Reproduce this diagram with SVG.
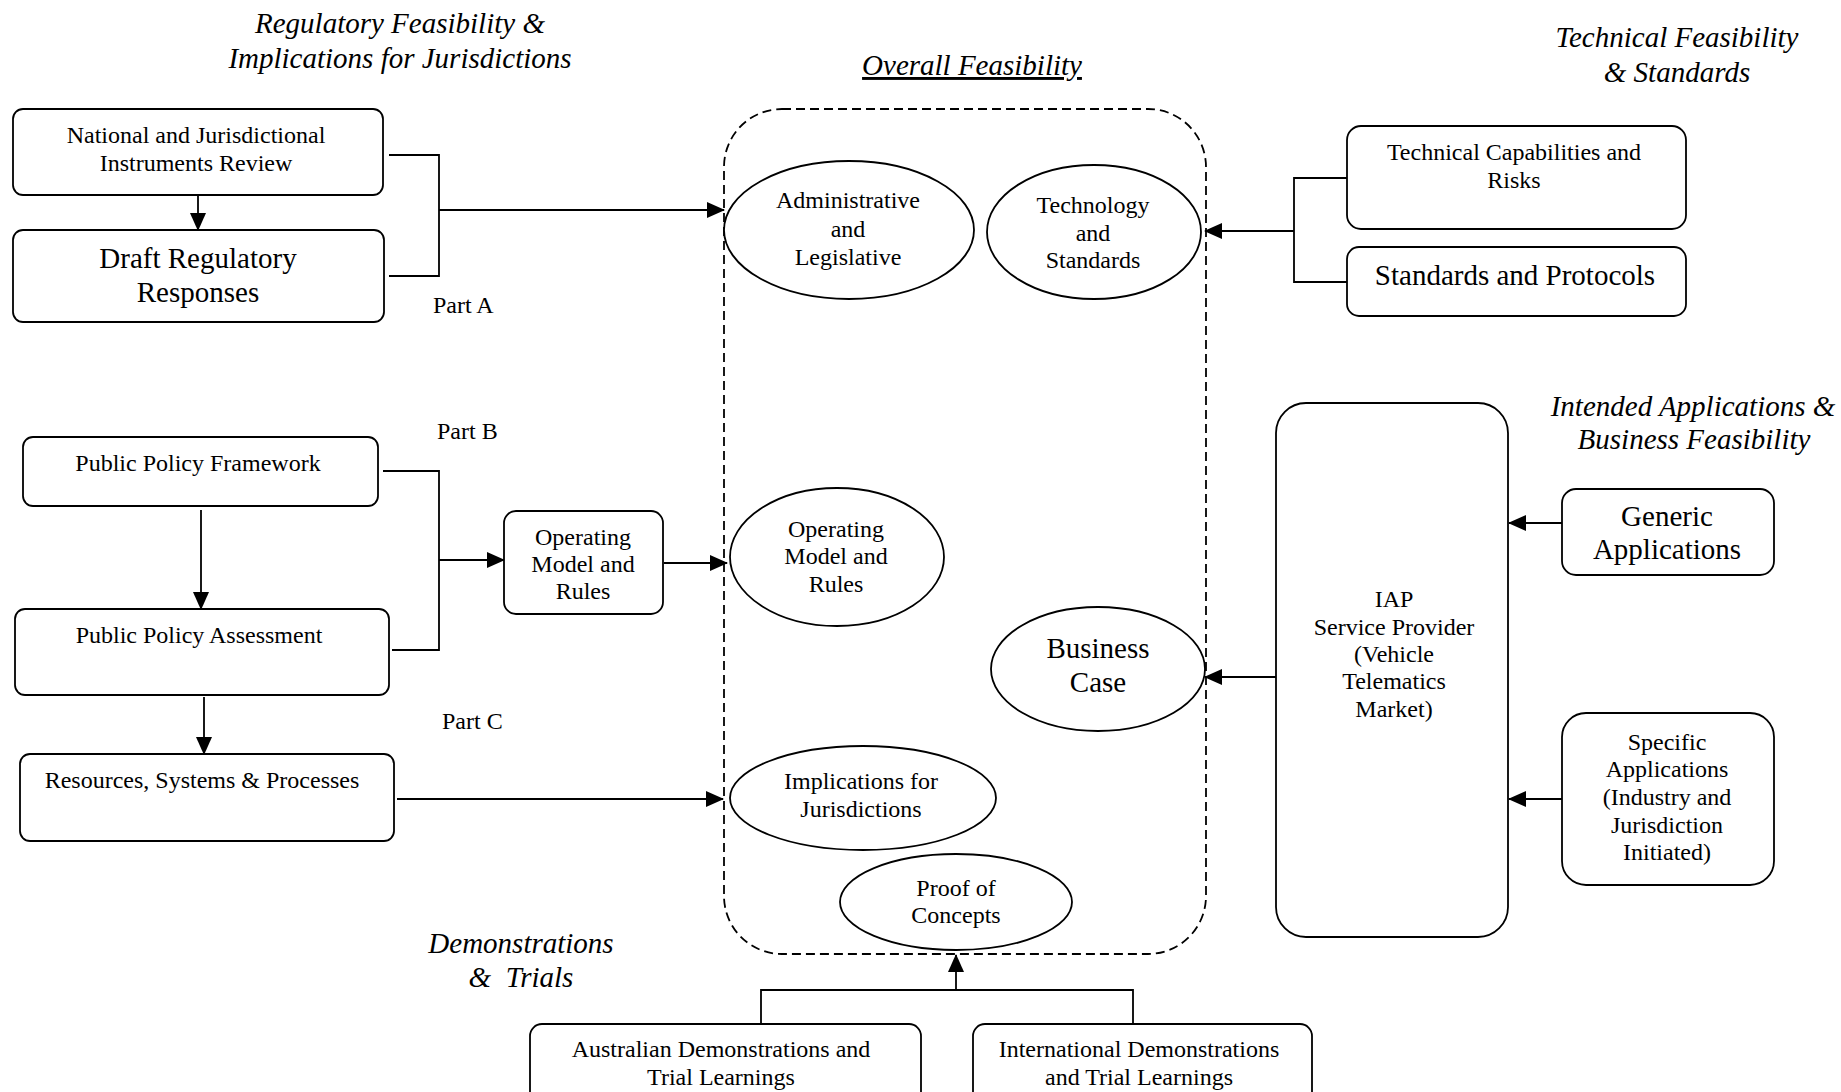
<svg xmlns="http://www.w3.org/2000/svg" width="1841" height="1092" viewBox="0 0 1841 1092">
<style>
text{font-family:"Liberation Serif","Times New Roman",serif;fill:#000;text-anchor:middle}
.t{font-size:24px}
.b{font-size:29px}
.h{font-size:29px;font-style:italic;white-space:pre}
.lbl{font-size:24px;text-anchor:start}
.box{fill:#fff;stroke:#000;stroke-width:1.8}
.ell{fill:#fff;stroke:#000;stroke-width:1.8}
.ln{fill:none;stroke:#000;stroke-width:1.8}
.arr{fill:none;stroke:#000;stroke-width:1.8;marker-end:url(#ah)}
</style>
<defs>
<marker id="ah" markerUnits="userSpaceOnUse" markerWidth="18" markerHeight="16" refX="17" refY="8" orient="auto">
<path d="M0,0 L18,8 L0,16 z" fill="#000"/>
</marker>
</defs>
<rect width="1841" height="1092" fill="#fff"/>

<g id="titles">
<text class="h" x="400" y="33">Regulatory Feasibility &amp;</text>
<text class="h" x="400" y="68">Implications for Jurisdictions</text>
<text class="h" x="972" y="75" text-decoration="underline">Overall Feasibility</text>
<text class="h" x="1677" y="47">Technical Feasibility</text>
<text class="h" x="1677" y="82">&amp; Standards</text>
<text class="h" x="1693" y="416">Intended Applications &amp;</text>
<text class="h" x="1694" y="449">Business Feasibility</text>
<text class="h" x="521" y="953">Demonstrations</text>
<text class="h" x="521" y="987">&amp;  Trials</text>
</g>

<g id="part-labels">
<text class="lbl" x="433" y="313">Part A</text>
<text class="lbl" x="437" y="439">Part B</text>
<text class="lbl" x="442" y="729">Part C</text>
</g>

<g id="connectors">
<path class="arr" d="M198,196 V230"/>
<path class="ln" d="M389,155 H439 V276 H389"/>
<path class="arr" d="M439,210 H724"/>
<path class="arr" d="M201,510 V609"/>
<path class="ln" d="M383,471 H439 V650 H392"/>
<path class="arr" d="M439,560 H504"/>
<path class="arr" d="M664,563 H727"/>
<path class="arr" d="M204,697 V754"/>
<path class="arr" d="M397,799 H723"/>
<path class="ln" d="M1347,178 H1294 V282 H1347"/>
<path class="arr" d="M1294,231 H1205"/>
<path class="arr" d="M1276,677 H1205"/>
<path class="arr" d="M1562,523 H1509"/>
<path class="arr" d="M1562,799 H1509"/>
<path class="ln" d="M761,1024 V990 H1133 V1024"/>
<path class="arr" d="M956,990 V955"/>
</g>

<g id="n-national">
<rect class="box" x="13" y="109" width="370" height="86" rx="10"/>
<text class="t" x="196" y="143">National and Jurisdictional</text>
<text class="t" x="196" y="171">Instruments Review</text>
</g>
<g id="n-draft">
<rect class="box" x="13" y="230" width="371" height="92" rx="10"/>
<text class="b" x="198" y="268">Draft Regulatory</text>
<text class="b" x="198" y="302">Responses</text>
</g>
<g id="n-ppf">
<rect class="box" x="23" y="437" width="355" height="69" rx="10"/>
<text class="t" x="198" y="471">Public Policy Framework</text>
</g>
<g id="n-ppa">
<rect class="box" x="15" y="609" width="374" height="86" rx="10"/>
<text class="t" x="199" y="643">Public Policy Assessment</text>
</g>
<g id="n-res">
<rect class="box" x="20" y="754" width="374" height="87" rx="10"/>
<text class="t" x="202" y="788">Resources, Systems &amp; Processes</text>
</g>
<g id="n-opbox">
<rect class="box" x="504" y="511" width="159" height="103" rx="12"/>
<text class="t" x="583" y="545">Operating</text>
<text class="t" x="583" y="572">Model and</text>
<text class="t" x="583" y="599">Rules</text>
</g>

<g id="n-overall">
<rect x="724" y="109" width="482" height="845" rx="58" fill="none" stroke="#000" stroke-width="1.8" stroke-dasharray="9 5"/>
</g>
<g id="e-admin">
<ellipse class="ell" cx="849" cy="230" rx="125" ry="69"/>
<text class="t" x="848" y="208">Administrative</text>
<text class="t" x="848" y="237">and</text>
<text class="t" x="848" y="265">Legislative</text>
</g>
<g id="e-tech">
<ellipse class="ell" cx="1094" cy="232" rx="107" ry="67"/>
<text class="t" x="1093" y="213">Technology</text>
<text class="t" x="1093" y="241">and</text>
<text class="t" x="1093" y="268">Standards</text>
</g>
<g id="e-opmodel">
<ellipse class="ell" cx="837" cy="557" rx="107" ry="69"/>
<text class="t" x="836" y="537">Operating</text>
<text class="t" x="836" y="564">Model and</text>
<text class="t" x="836" y="592">Rules</text>
</g>
<g id="e-business">
<ellipse class="ell" cx="1098" cy="669" rx="107" ry="62"/>
<text class="b" x="1098" y="658">Business</text>
<text class="b" x="1098" y="692">Case</text>
</g>
<g id="e-implications">
<ellipse class="ell" cx="863" cy="798" rx="133" ry="52"/>
<text class="t" x="861" y="789">Implications for</text>
<text class="t" x="861" y="817">Jurisdictions</text>
</g>
<g id="e-proof">
<ellipse class="ell" cx="956" cy="902" rx="116" ry="48"/>
<text class="t" x="956" y="896">Proof of</text>
<text class="t" x="956" y="923">Concepts</text>
</g>

<g id="n-techcap">
<rect class="box" x="1347" y="126" width="339" height="103" rx="14"/>
<text class="t" x="1514" y="160">Technical Capabilities and</text>
<text class="t" x="1514" y="188">Risks</text>
</g>
<g id="n-standards">
<rect class="box" x="1347" y="247" width="339" height="69" rx="12"/>
<text class="b" x="1515" y="285">Standards and Protocols</text>
</g>
<g id="n-iap">
<rect class="box" x="1276" y="403" width="232" height="534" rx="30"/>
<text class="t" x="1394" y="607">IAP</text>
<text class="t" x="1394" y="635">Service Provider</text>
<text class="t" x="1394" y="662">(Vehicle</text>
<text class="t" x="1394" y="689">Telematics</text>
<text class="t" x="1394" y="717">Market)</text>
</g>
<g id="n-generic">
<rect class="box" x="1562" y="489" width="212" height="86" rx="14"/>
<text class="b" x="1667" y="526">Generic</text>
<text class="b" x="1667" y="559">Applications</text>
</g>
<g id="n-specific">
<rect class="box" x="1562" y="713" width="212" height="172" rx="24"/>
<text class="t" x="1667" y="750">Specific</text>
<text class="t" x="1667" y="777">Applications</text>
<text class="t" x="1667" y="805">(Industry and</text>
<text class="t" x="1667" y="833">Jurisdiction</text>
<text class="t" x="1667" y="860">Initiated)</text>
</g>
<g id="n-australian">
<rect class="box" x="530" y="1024" width="391" height="92" rx="12"/>
<text class="t" x="721" y="1057">Australian Demonstrations and</text>
<text class="t" x="721" y="1085">Trial Learnings</text>
</g>
<g id="n-international">
<rect class="box" x="973" y="1024" width="339" height="92" rx="12"/>
<text class="t" x="1139" y="1057">International Demonstrations</text>
<text class="t" x="1139" y="1085">and Trial Learnings</text>
</g>
</svg>
